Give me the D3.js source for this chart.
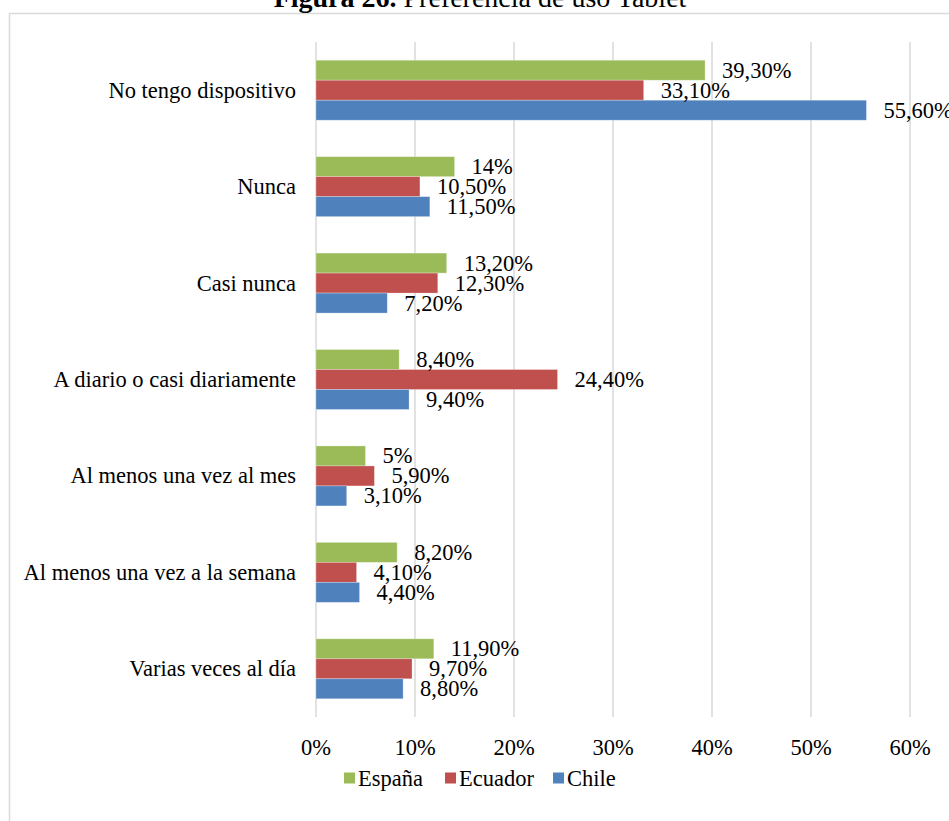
<!DOCTYPE html>
<html>
<head>
<meta charset="utf-8">
<script src="https://cdn.jsdelivr.net/npm/d3@7"></script>
<style>
  body { margin: 0; background: #fff; }
  svg text { font-family: "Liberation Serif", "DejaVu Serif", serif; fill: #000; }
</style>
</head>
<body>
<div id="chart"></div>
<script>
// categories, top to bottom
var categories = ['No tengo dispositivo', 'Nunca', 'Casi nunca', 'A diario o casi diariamente',
	'Al menos una vez al mes', 'Al menos una vez a la semana', 'Varias veces al día'];
var series = ['España', 'Ecuador', 'Chile'];
var espana = [39.3, 14, 13.2, 8.4, 5, 8.2, 11.9];
var ecuador = [33.1, 10.5, 12.3, 24.4, 5.9, 4.1, 9.7];
var chile = [55.6, 11.5, 7.2, 9.4, 3.1, 4.4, 8.8];
var xTicks = [0, 10, 20, 30, 40, 50, 60];

var colors = {'España': '#9bbb59', 'Ecuador': '#c0504d', 'Chile': '#4f81bd'};
var values = {'España': espana, 'Ecuador': ecuador, 'Chile': chile};

var width = 949,
    height = 821,
    fontSize = '22.5px';

var svg = d3.select('#chart').append('svg')
	.attr('width', width)
	.attr('height', height);

// chart frame (runs past the page edge)
svg.append('rect')
	.attr('x', 9.5).attr('y', 13.5)
	.attr('width', 1000).attr('height', 900)
	.attr('fill', 'none').attr('stroke', '#d9d9d9').attr('stroke-width', 1.5);

// title, mostly cut off at top
var title = svg.append('text')
	.attr('x', 480).attr('y', 7)
	.attr('text-anchor', 'middle')
	.style('font-size', '28px');
title.append('tspan').style('font-weight', 'bold').text('Figura 26. ');
title.append('tspan').text('Preferencia de uso Tablet');

var x = d3.scaleLinear().domain([0, 60]).range([316, 910]);
var y = d3.scaleBand().domain(categories).range([42, 717])
	.paddingInner(0.378).paddingOuter(0.189);
var ySub = d3.scaleBand().domain(series).range([0, y.bandwidth()]);

// gridlines
svg.append('g').selectAll('line')
	.data(xTicks)
	.enter().append('line')
	.attr('x1', d => x(d)).attr('x2', d => x(d))
	.attr('y1', 42).attr('y2', 717)
	.attr('stroke', '#d9d9d9').attr('stroke-width', 1.5);

// x tick labels
svg.append('g').selectAll('text')
	.data(xTicks)
	.enter().append('text')
	.attr('x', d => x(d)).attr('y', 747)
	.attr('text-anchor', 'middle').attr('dominant-baseline', 'central')
	.style('font-size', fontSize)
	.text(d => d + '%');

// category labels
svg.append('g').selectAll('text')
	.data(categories)
	.enter().append('text')
	.attr('x', 296).attr('y', d => y(d) + y.bandwidth() / 2)
	.attr('text-anchor', 'end').attr('dominant-baseline', 'central')
	.style('font-size', fontSize)
	.text(d => d);

function fmt(v) {
	return Number.isInteger(v) ? v + '%' : v.toFixed(2).replace('.', ',') + '%';
}

var rows = [];
series.forEach(function(s) {
	categories.forEach(function(c, i) {
		rows.push({cat: c, series: s, value: values[s][i]});
	});
});

var bars = svg.append('g');
bars.selectAll('rect')
	.data(rows)
	.enter().append('rect')
	.attr('x', x(0))
	.attr('y', d => y(d.cat) + ySub(d.series))
	.attr('width', d => x(d.value) - x(0))
	.attr('height', ySub.bandwidth())
	.attr('fill', d => colors[d.series])
	.attr('stroke', '#fff').attr('stroke-opacity', 0.35).attr('stroke-width', 0.8);

// data labels
bars.selectAll('text')
	.data(rows)
	.enter().append('text')
	.attr('x', d => x(d.value) + 17)
	.attr('y', d => y(d.cat) + ySub(d.series) + ySub.bandwidth() / 2)
	.attr('dominant-baseline', 'central')
	.style('font-size', fontSize)
	.text(d => fmt(d.value));

// legend
var legend = svg.append('g').selectAll('g')
	.data(series)
	.enter().append('g')
	.attr('transform', (d, i) => 'translate(' + [344, 445, 553][i] + ',778)');
legend.append('rect')
	.attr('x', 0).attr('y', -5.5)
	.attr('width', 11).attr('height', 11)
	.attr('fill', d => colors[d]);
legend.append('text')
	.attr('x', 14).attr('y', 0)
	.attr('dominant-baseline', 'central')
	.style('font-size', fontSize)
	.text(d => d);
</script>
</body>
</html>
